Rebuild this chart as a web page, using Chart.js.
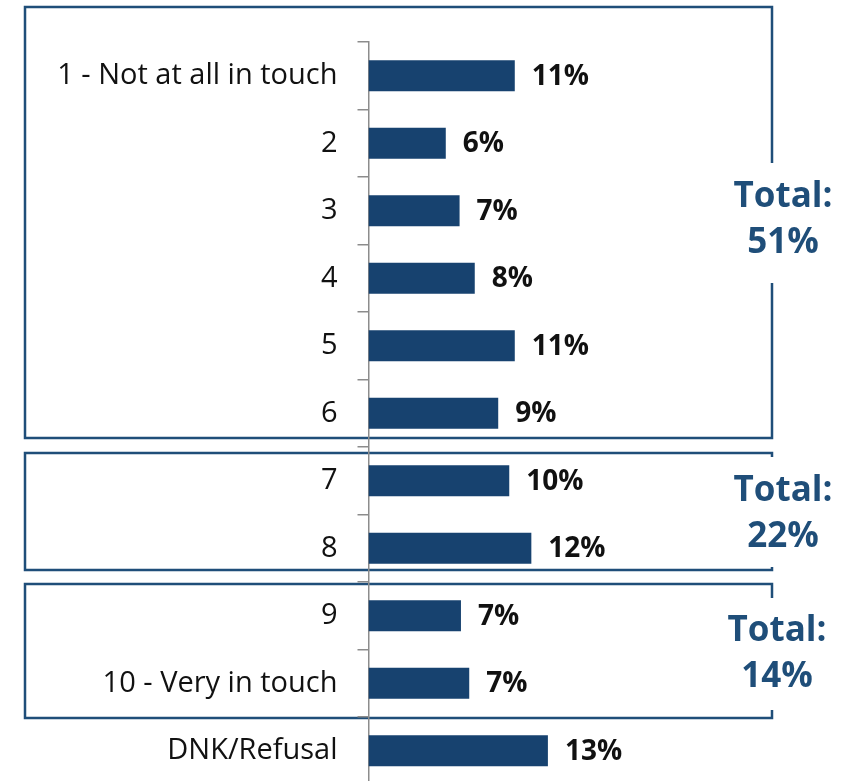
<!DOCTYPE html>
<html>
<head>
<meta charset="utf-8">
<script src="https://cdn.jsdelivr.net/npm/chart.js@4.4.1/dist/chart.umd.min.js"></script>
<style>
  html, body { margin: 0; padding: 0; background: #fff; overflow: hidden; }
  #wrap { position: relative; width: 846px; height: 786px; }
</style>
</head>
<body>
<div id="wrap"><canvas id="chart"></canvas></div>
<script>
// values (percent of respondents)
const categories = ['1 - Not at all in touch', '2', '3', '4', '5', '6', '7', '8', '9', '10 - Very in touch', 'DNK/Refusal'];
const values = [10.6, 5.6, 6.6, 7.7, 10.6, 9.4, 10.2, 11.8, 6.7, 7.3, 13.0];
const valueLabels = ['11%', '6%', '7%', '8%', '11%', '9%', '10%', '12%', '7%', '7%', '13%'];
const groupTotals = ['51%', '22%', '14%'];

const BAR = '#17426f';
const FRAME = '#1f4e79';
const FONT = '"Open Sans", "Liberation Sans", sans-serif';

// boxes round the groups; the right edge breaks where the total sits
const groupBoxes = [
  { top: 7, bottom: 438, gapTop: 163, gapBottom: 283, textX: 783, textY: 220 },
  { top: 453, bottom: 570, gapTop: 457, gapBottom: 567, textX: 783, textY: 514 },
  { top: 584, bottom: 718, gapTop: 598, gapBottom: 710, textX: 777, textY: 654 }
];

const groupPlugin = {
  id: 'groups',
  beforeDraw(chart) {
    const ctx = chart.ctx;
    const left = 25, right = 772;
    ctx.save();
    ctx.strokeStyle = FRAME;
    ctx.lineWidth = 2.5;
    groupBoxes.forEach((b) => {
      ctx.beginPath();
      ctx.moveTo(right, b.gapTop);
      ctx.lineTo(right, b.top);
      ctx.lineTo(left, b.top);
      ctx.lineTo(left, b.bottom);
      ctx.lineTo(right, b.bottom);
      ctx.lineTo(right, b.gapBottom);
      ctx.stroke();
    });
    ctx.restore();
  },
  afterDraw(chart) {
    const ctx = chart.ctx;
    ctx.save();
    ctx.fillStyle = FRAME;
    ctx.font = 'bold 35px ' + FONT;
    ctx.textAlign = 'center';
    ctx.textBaseline = 'middle';
    groupBoxes.forEach((b, i) => {
      ctx.fillText('Total:', b.textX, b.textY - 23);
      ctx.fillText(groupTotals[i], b.textX, b.textY + 23);
    });
    ctx.restore();
  }
};

const valueLabelPlugin = {
  id: 'valueLabels',
  afterDatasetsDraw(chart) {
    const ctx = chart.ctx;
    const meta = chart.getDatasetMeta(0);
    ctx.save();
    ctx.fillStyle = '#111';
    ctx.font = 'bold 28px ' + FONT;
    ctx.textAlign = 'left';
    ctx.textBaseline = 'middle';
    meta.data.forEach((bar, i) => {
      ctx.fillText(valueLabels[i], bar.x + 17, bar.y + 1);
    });
    ctx.restore();
  }
};

new Chart(document.getElementById('chart'), {
  type: 'bar',
  data: {
    labels: categories,
    datasets: [{
      data: values,
      backgroundColor: BAR,
      borderWidth: 0,
      barPercentage: 0.46,
      categoryPercentage: 1
    }]
  },
  options: {
    indexAxis: 'y',
    responsive: true,
    maintainAspectRatio: false,
    animation: false,
    devicePixelRatio: 1,
    layout: { padding: { top: 42, left: 0, right: 201.5, bottom: 1.5 } },
    plugins: {
      legend: { display: false },
      tooltip: { enabled: false }
    },
    scales: {
      x: { display: false, min: 0, max: 20 },
      y: {
        afterFit(scale) {
          scale.width = 368.5;
          scale.paddingTop = 0;
          scale.paddingBottom = 0;
        },
        border: { display: true, color: '#8c8c8c', width: 1.5 },
        grid: {
          display: true,
          offset: true,
          drawOnChartArea: false,
          drawTicks: true,
          tickLength: 11,
          color: '#8c8c8c',
          lineWidth: 1.5
        },
        ticks: {
          color: '#111',
          padding: 20,
          font: { family: FONT, size: 29 }
        }
      }
    }
  },
  plugins: [groupPlugin, valueLabelPlugin]
});
</script>
</body>
</html>
